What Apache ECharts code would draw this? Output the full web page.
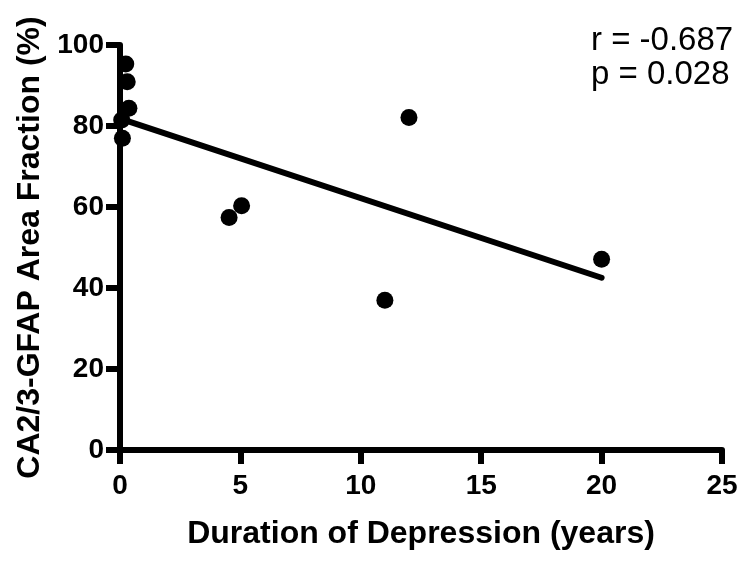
<!DOCTYPE html>
<html><head><meta charset="utf-8">
<script src="https://cdn.jsdelivr.net/npm/echarts@6/dist/echarts.min.js"></script>
<style>html,body{margin:0;padding:0;background:#fff}#c{width:751px;height:565px}</style>
</head><body><div id="c"></div>
<script>
const durationYears = [0.24, 0.30, 0.37, 0.07, 0.10, 4.53, 5.05, 11.0, 12.0, 20.0];
const gfapFraction  = [95.3, 90.9, 84.4, 81.5, 77.0, 57.4, 60.3, 37.0, 82.1, 47.1];
const xTicks = [0, 5, 10, 15, 20, 25];
const yTicks = [0, 20, 40, 60, 80, 100];
const statsLines = ['r = -0.687', 'p = 0.028'];
const xTitle = 'Duration of Depression (years)';
const yTitle = 'CA2/3-GFAP Area Fraction (%)';

const FONT = '"Liberation Sans", Arial, sans-serif';

// least-squares fit
const n = durationYears.length;
const mx = durationYears.reduce((a, b) => a + b, 0) / n;
const my = gfapFraction.reduce((a, b) => a + b, 0) / n;
let sxy = 0, sxx = 0;
for (let i = 0; i < n; i++) {
  sxy += (durationYears[i] - mx) * (gfapFraction[i] - my);
  sxx += (durationYears[i] - mx) ** 2;
}
const slope = sxy / sxx;
const intercept = my - slope * mx;
const x0 = Math.min(...durationYears), x1 = Math.max(...durationYears);
const fitLine = [[x0, intercept + slope * x0], [x1, intercept + slope * x1]];

const points = durationYears.map((x, i) => [x, gfapFraction[i]]);

const chart = echarts.init(document.getElementById('c'), null, {renderer: 'canvas'});
const axisCommon = {
  axisLine: {show: true, lineStyle: {color: '#000', width: 6}},
  axisTick: {show: true, length: 14, lineStyle: {color: '#000', width: 6}},
  splitLine: {show: false},
  nameLocation: 'middle',
  nameTextStyle: {color: '#000', fontFamily: FONT, fontWeight: 'bold', fontSize: 32}
};
chart.setOption({
  animation: false,
  backgroundColor: '#fff',
  grid: {left: 120, right: 29, top: 45, bottom: 115, containLabel: false},
  xAxis: Object.assign({}, axisCommon, {
    type: 'value', min: xTicks[0], max: xTicks[xTicks.length - 1], interval: xTicks[1] - xTicks[0],
    name: xTitle, nameGap: 68,
    axisLabel: {color: '#000', fontFamily: FONT, fontWeight: 'bold', fontSize: 28, margin: 22}
  }),
  yAxis: Object.assign({}, axisCommon, {
    type: 'value', min: yTicks[0], max: yTicks[yTicks.length - 1], interval: yTicks[1] - yTicks[0],
    name: yTitle, nameGap: 52,
    axisLabel: {color: '#000', fontFamily: FONT, fontWeight: 'bold', fontSize: 28, margin: 16}
  }),
  graphic: [{
    type: 'text', left: 591, top: 24,
    style: {text: statsLines.join('\n'), fill: '#000', font: '33px ' + FONT, lineHeight: 34}
  }],
  series: [
    {type: 'line', data: fitLine, showSymbol: false, symbol: 'none',
     lineStyle: {color: '#000', width: 6, cap: 'round'}, z: 2},
    {type: 'scatter', data: points, symbol: 'circle', symbolSize: 17,
     itemStyle: {color: '#000', opacity: 1}, z: 3}
  ]
});
</script></body></html>
